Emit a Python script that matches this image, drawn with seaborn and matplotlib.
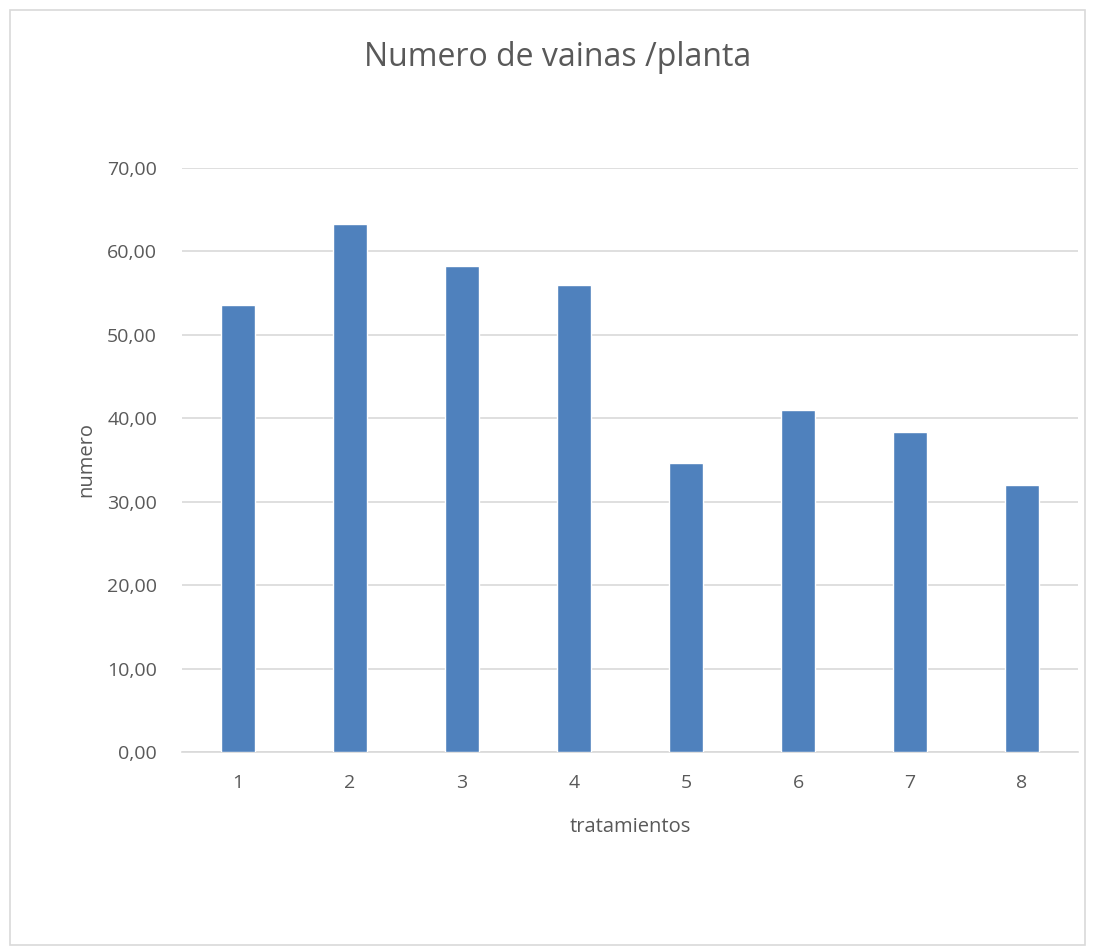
import matplotlib
matplotlib.use("Agg")
import matplotlib.pyplot as plt
import seaborn as sns
import pandas as pd
from matplotlib.patches import Rectangle
from matplotlib.ticker import FuncFormatter

# Data
tratamientos = ["1", "2", "3", "4", "5", "6", "7", "8"]
vainas = [53.6, 63.3, 58.25, 55.95, 34.6, 40.95, 38.3, 32.0]

df = pd.DataFrame({"tratamientos": tratamientos, "numero": vainas})

sns.set_theme(style="white")
plt.rcParams['font.family'] = ['Open Sans', 'DejaVu Sans']

text_col = "#595959"
grid_col = "#D9D9D9"

fig = plt.figure(figsize=(10.95, 9.52), dpi=100)
ax = fig.add_axes([182 / 1095, 200 / 952, 896 / 1095, 584 / 952])

sns.barplot(data=df, x="tratamientos", y="numero", color="#4F81BD",
            width=0.31, saturation=1, ax=ax, zorder=3)

ax.set_ylim(0, 70)
ax.set_xlim(-0.5, 7.5)
ax.set_yticks(range(0, 71, 10))
ax.yaxis.set_major_formatter(FuncFormatter(lambda v, p: f"{v:.2f}".replace(".", ",")))
ax.grid(axis="y", color=grid_col, linewidth=1.2, zorder=0)
ax.grid(axis="x", visible=False)

for s in ["top", "right", "left"]:
    ax.spines[s].set_visible(False)
ax.spines["bottom"].set_color(grid_col)
ax.spines["bottom"].set_linewidth(1.2)

ax.tick_params(axis="both", length=0, labelsize=14, colors=text_col)
ax.tick_params(axis="y", pad=18)
ax.tick_params(axis="x", pad=16)

ax.set_xlabel("tratamientos", fontsize=14.5, color=text_col, labelpad=18)
ax.set_ylabel("numero", fontsize=14.5, color=text_col, labelpad=8)

fig.text(0.5 + 10 / 1095, 1 - 57 / 952, "Numero de vainas /planta", ha="center", va="center",
         fontsize=23, color=text_col)

# chart area frame
fig.patches.append(Rectangle((10 / 1095, 7 / 952), 1075 / 1095, 935 / 952,
                             transform=fig.transFigure, fill=False,
                             edgecolor=grid_col, linewidth=1.2))

fig.savefig("out.png", dpi=100, facecolor="white")
